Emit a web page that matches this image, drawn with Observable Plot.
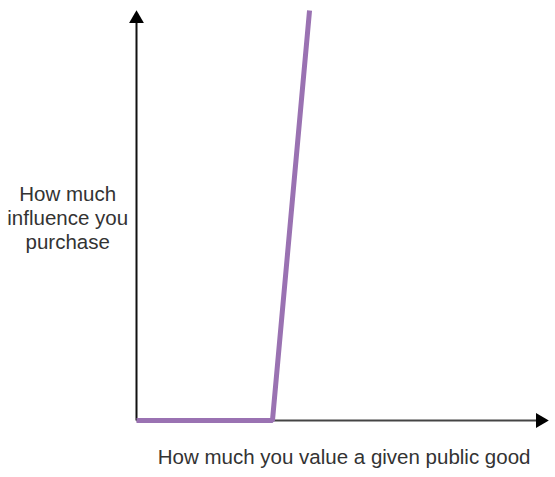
<!DOCTYPE html>
<html>
<head>
<meta charset="utf-8">
<script src="https://cdn.jsdelivr.net/npm/d3@7"></script>
<script src="https://cdn.jsdelivr.net/npm/@observablehq/plot@0.6"></script>
<style>
  html, body { margin: 0; padding: 0; background: #fff; }
</style>
</head>
<body>
<div id="chart"></div>
<script>
// Schematic curve (abstract units 0–100 on both axes)
const curveX = [0, 33, 42];
const curveY = [0, 0, 100];
const yLabel = "How much\ninfluence you\npurchase";
const xLabel = "How much you value a given public good";

const curve = curveX.map((x, i) => ({x, y: curveY[i]}));

const chart = Plot.plot({
  width: 555,
  height: 477,
  marginTop: 0, marginRight: 0, marginBottom: 0, marginLeft: 0,
  x: {domain: [0, 100], range: [136, 548], axis: null},
  y: {domain: [0, 100], range: [420, 10], axis: null},
  style: {fontFamily: "Liberation Sans, Arial, sans-serif", background: "#fff"},
  marks: [
    // axes
    Plot.link([{x1: 0, y1: 0, x2: 98, y2: 0}], {x1: "x1", y1: "y1", x2: "x2", y2: "y2", stroke: "#444", strokeWidth: 2}),
    Plot.link([{x1: 0, y1: 0, x2: 0, y2: 97}], {x1: "x1", y1: "y1", x2: "x2", y2: "y2", stroke: "#111", strokeWidth: 2}),
    Plot.dot([{x: 0, y: 98.0}], {x: "x", y: "y", symbol: "triangle", r: 5.5, fill: "#000", stroke: "none"}),
    Plot.dot([{x: 98.0, y: 0}], {x: "x", y: "y", symbol: "triangle", r: 5.5, fill: "#000", stroke: "none", rotate: 90}),
    // curve
    Plot.line(curve, {x: "x", y: "y", stroke: "#9a72b2", strokeWidth: 5, strokeLinejoin: "miter", strokeLinecap: "butt"}),
    // labels
    Plot.text([yLabel], {x: -16.7, y: 49.6, text: d => d, fontSize: 20.5, lineHeight: 1.17, fill: "#333", textAnchor: "middle"}),
    Plot.text([xLabel], {x: 50.4, y: -9.0, text: d => d, fontSize: 20.5, fill: "#333", textAnchor: "middle"})
  ]
});
document.getElementById("chart").appendChild(chart);
</script>
</body>
</html>
